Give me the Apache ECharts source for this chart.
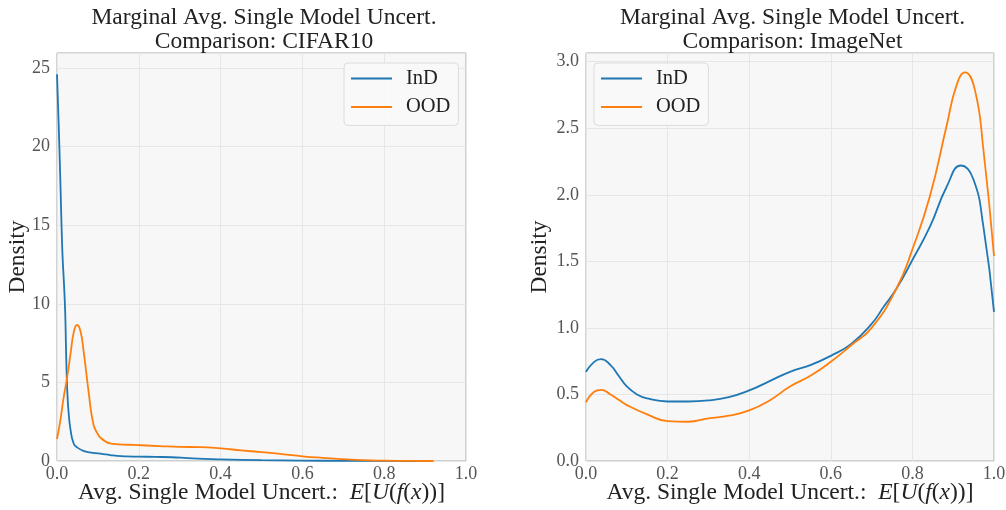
<!DOCTYPE html>
<html>
<head>
<meta charset="utf-8">
<script src="https://cdn.jsdelivr.net/npm/echarts@6/dist/echarts.min.js"></script>
<style>html,body{margin:0;padding:0;background:#fff}#c{width:1006px;height:510px}</style>
</head>
<body>
<div id="c"></div>
<script>
// ---- Data ----
const titles = ['Marginal Avg. Single Model Uncert.\nComparison: CIFAR10', 'Marginal Avg. Single Model Uncert.\nComparison: ImageNet'];
const seriesNames = ['InD', 'OOD'];
const xTicks = [0, 0.2, 0.4, 0.6, 0.8, 1.0];

// CIFAR10 panel
const cifarIndX = [0, 0.004, 0.008, 0.013, 0.017, 0.020, 0.022, 0.024, 0.026, 0.028, 0.033, 0.041, 0.05, 0.065, 0.08, 0.106, 0.13, 0.147, 0.17, 0.2, 0.24, 0.28, 0.32, 0.36, 0.4, 0.5, 0.6, 0.7, 0.8, 0.92];
const cifarIndY = [24.6, 21.5, 18, 13.4, 11.3, 9.5, 7.2, 5.2, 4.0, 3.2, 2.0, 1.1, 0.85, 0.64, 0.55, 0.47, 0.38, 0.32, 0.29, 0.28, 0.26, 0.24, 0.18, 0.13, 0.1, 0.05, 0.025, 0.01, 0.003, 0];
const cifarOodX = [0, 0.008, 0.016, 0.024, 0.033, 0.041, 0.049, 0.057, 0.065, 0.077, 0.089, 0.1, 0.106, 0.118, 0.13, 0.15, 0.187, 0.25, 0.3, 0.35, 0.4, 0.45, 0.5, 0.55, 0.6, 0.65, 0.7, 0.75, 0.8, 0.85, 0.92];
const cifarOodY = [1.4, 2.55, 4.0, 5.2, 6.8, 8.2, 8.65, 8.3, 7.0, 4.46, 2.34, 1.7, 1.49, 1.25, 1.12, 1.06, 1.02, 0.95, 0.9, 0.88, 0.8, 0.68, 0.56, 0.44, 0.3, 0.2, 0.12, 0.05, 0.02, 0.008, 0];

// ImageNet panel
const imgIndX = [0, 0.02, 0.037, 0.06, 0.08, 0.1, 0.125, 0.15, 0.2, 0.25, 0.3, 0.35, 0.4, 0.45, 0.5, 0.55, 0.6, 0.65, 0.7, 0.73, 0.76, 0.8, 0.843, 0.884, 0.919, 0.949, 0.974, 1.0];
const imgIndY = [0.67, 0.745, 0.765, 0.72, 0.64, 0.56, 0.50, 0.47, 0.447, 0.447, 0.455, 0.48, 0.53, 0.6, 0.67, 0.72, 0.79, 0.88, 1.03, 1.16, 1.29, 1.51, 1.76, 2.06, 2.22, 2.12, 1.76, 1.12];
const imgOodX = [0, 0.02, 0.037, 0.06, 0.08, 0.1, 0.15, 0.2, 0.25, 0.3, 0.35, 0.4, 0.45, 0.5, 0.55, 0.6, 0.65, 0.7, 0.76, 0.8, 0.843, 0.884, 0.908, 0.929, 0.953, 0.974, 1.0];
const imgOodY = [0.44, 0.52, 0.535, 0.5, 0.46, 0.42, 0.35, 0.30, 0.295, 0.32, 0.34, 0.38, 0.455, 0.56, 0.64, 0.745, 0.87, 1.0, 1.29, 1.59, 1.99, 2.52, 2.82, 2.92, 2.79, 2.34, 1.54];

const colors = ['#1f77b4', '#ff7f0e'];
const FONT = '"Liberation Serif", "DejaVu Serif", serif';

function pairs(xs, ys) { return xs.map((x, i) => [x, ys[i]]); }

const grids = [
  { left: 57, top: 53, width: 409, height: 408 },
  { left: 586, top: 53, width: 408, height: 408 }
];
const titleCenters = [259, 787.5];
const yMax = [25.95, 3.065];
const yInterval = [5, 0.5];
const yFmt = [v => String(Math.round(v)), v => v.toFixed(1)];
const nameGaps = [27, 34];

const option = {
  animation: false,
  backgroundColor: '#ffffff',
  textStyle: { fontFamily: FONT },
  title: titles.map((t, i) => ({
    text: t,
    left: titleCenters[i],
    top: 1,
    textAlign: 'center',
    textStyle: { fontFamily: FONT, fontSize: 23.5, fontWeight: 'normal', color: '#222', lineHeight: 24 }
  })),
  legend: [0, 1].map(i => ({
    data: seriesNames,
    orient: 'vertical',
    left: i === 0 ? 344 : 594,
    top: 63,
    padding: [5, 8, 8, 7],
    itemWidth: 41,
    itemHeight: 2,
    icon: 'rect',
    itemGap: 7.4,
    backgroundColor: 'rgba(248,248,248,0.9)',
    borderColor: '#dcdcdc',
    borderWidth: 1,
    borderRadius: 4,
    textStyle: { fontFamily: FONT, fontSize: 20.5, color: '#222', lineHeight: 20, padding: [0, 0, 0, 9] }
  })),
  grid: grids.map(g => Object.assign({
    show: true, backgroundColor: '#f7f7f7', borderColor: '#a8a8a8', borderWidth: 1,
    containLabel: false, outerBoundsMode: 'none'
  }, g)),
  xAxis: [0, 1].map(i => ({
    type: 'value', gridIndex: i, min: 0, max: 1, interval: 0.2,
    name: 'Avg. Single Model Uncert.:  {i|E}[{i|U}({i|f}({i|x}))]',
    nameLocation: 'middle', nameGap: 20, nameMoveOverlap: false,
    nameTextStyle: { fontFamily: FONT, fontSize: 23.5, color: '#222',
      rich: { i: { fontFamily: FONT, fontSize: 23.5, fontStyle: 'italic', color: '#222' } } },
    axisLine: { show: false }, axisTick: { show: false },
    axisLabel: { formatter: v => v.toFixed(1), fontFamily: FONT, fontSize: 18, color: '#555', margin: 4 },
    splitLine: { show: true, lineStyle: { color: '#e6e6e6', width: 1 } }
  })),
  yAxis: [0, 1].map(i => ({
    type: 'value', gridIndex: i, min: 0, max: yMax[i], interval: yInterval[i],
    name: 'Density', nameLocation: 'middle', nameGap: nameGaps[i], nameRotate: 90, nameMoveOverlap: false,
    nameTextStyle: { fontFamily: FONT, fontSize: 23.5, color: '#222' },
    axisLine: { show: false }, axisTick: { show: false },
    axisLabel: { formatter: yFmt[i], fontFamily: FONT, fontSize: 18, color: '#555', margin: 7, showMaxLabel: false },
    splitLine: { show: true, lineStyle: { color: '#e6e6e6', width: 1 } }
  })),
  series: [
    { name: 'InD', type: 'line', xAxisIndex: 0, yAxisIndex: 0, data: pairs(cifarIndX, cifarIndY) },
    { name: 'OOD', type: 'line', xAxisIndex: 0, yAxisIndex: 0, data: pairs(cifarOodX, cifarOodY) },
    { name: 'InD', type: 'line', xAxisIndex: 1, yAxisIndex: 1, data: pairs(imgIndX, imgIndY) },
    { name: 'OOD', type: 'line', xAxisIndex: 1, yAxisIndex: 1, data: pairs(imgOodX, imgOodY) }
  ].map((s, k) => Object.assign(s, {
    symbol: 'none', smooth: 0.5, clip: true,
    color: colors[k % 2],
    lineStyle: { width: 1.8, color: colors[k % 2] }
  }))
};

const chart = echarts.init(document.getElementById('c'), null, { renderer: 'canvas' });
chart.setOption(option);
</script>
</body>
</html>
